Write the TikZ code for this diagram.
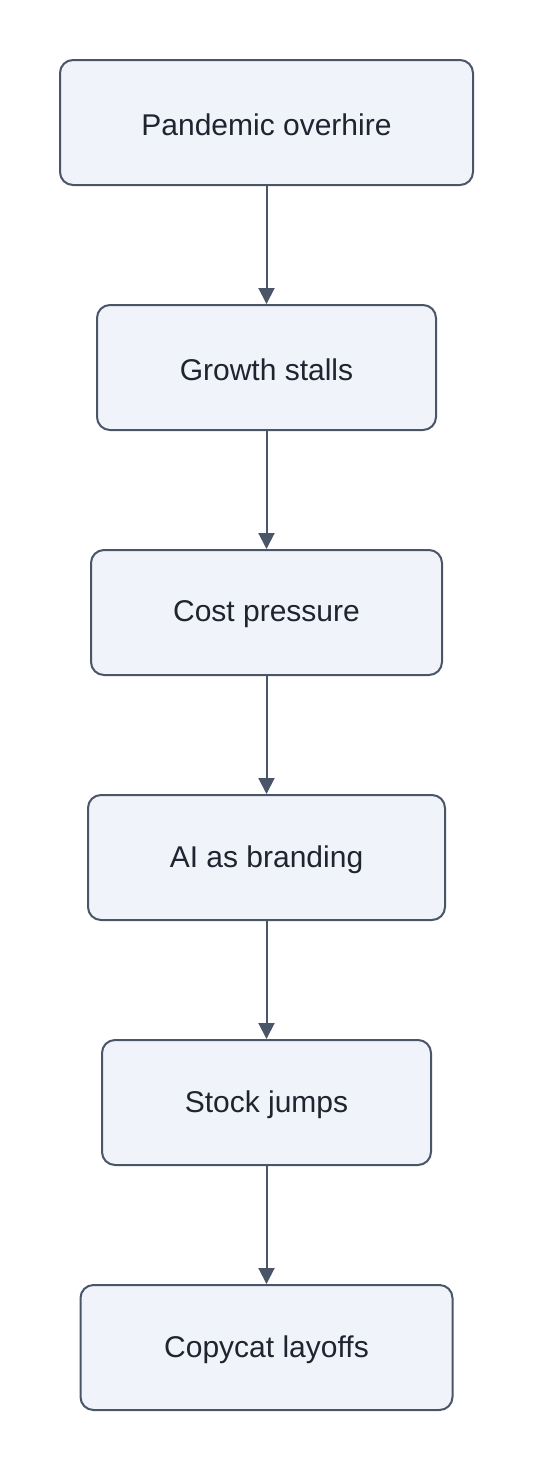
\documentclass[tikz,border=0pt]{standalone}
\usepackage{fontspec}
\setmainfont{Liberation Sans}
\usetikzlibrary{arrows.meta}
\definecolor{boxfill}{HTML}{F0F3F9}
\definecolor{boxline}{HTML}{4A5568}
\definecolor{txt}{HTML}{1E2430}
\begin{document}
\begin{tikzpicture}[x=1pt,y=-1pt,
  flowbox/.style={draw=boxline, fill=boxfill, line width=2pt, rounded corners=13pt,
    minimum height=125pt, inner sep=0pt, text=txt, font=\fontsize{30}{36}\selectfont},
  flowlabel/.style={text=txt, font=\fontsize{30}{36}\selectfont, inner sep=0pt},
  flowarrow/.style={draw=boxline, line width=2pt, -{Triangle[length=16pt,width=16pt]}}]
\useasboundingbox (0,0) rectangle (534,1470);
\node[flowbox, minimum width=413pt] (a) at (266.5,122.5) {};
\node[flowbox, minimum width=339pt] (b) at (266.5,367.5) {};
\node[flowbox, minimum width=351pt] (c) at (266.5,612.5) {};
\node[flowbox, minimum width=357pt] (d) at (266.5,857.5) {};
\node[flowbox, minimum width=329pt] (e) at (266.5,1102.5) {};
\node[flowbox, minimum width=372pt] (f) at (266.5,1347.5) {};
\node[flowlabel] (ta) at ([yshift=-2pt]a.center) {Pandemic overhire};
\node[flowlabel] (tb) at ([yshift=-2pt]b.center) {Growth stalls};
\node[flowlabel] (tc) at ([yshift=-2pt]c.center) {Cost pressure};
\node[flowlabel] (td) at ([yshift=-2pt]d.center) {AI as branding};
\node[flowlabel] (te) at ([yshift=-2pt]e.center) {Stock jumps};
\node[flowlabel] (tf) at ([yshift=-2pt]f.center) {Copycat layoffs};
\draw[flowarrow] (a) -- (b);
\draw[flowarrow] (b) -- (c);
\draw[flowarrow] (c) -- (d);
\draw[flowarrow] (d) -- (e);
\draw[flowarrow] (e) -- (f);
\end{tikzpicture}
\end{document}
